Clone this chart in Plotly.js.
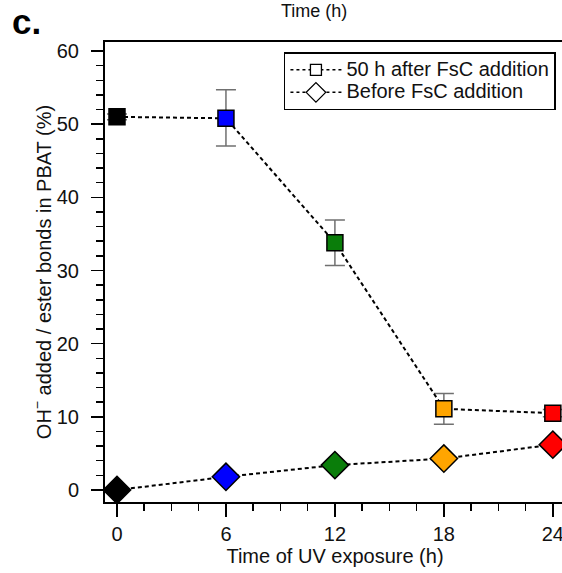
<!DOCTYPE html>
<html>
<head>
<meta charset="utf-8">
<script src="https://cdn.plot.ly/plotly-3.0.1.min.js"></script>
<style>
html, body { margin:0; padding:0; overflow:hidden; background:#fff; }
#chart { width:568px; height:573px; }
</style>
</head>
<body>
<div id="chart"></div>
<script>
// Data
const timeH = [0, 6, 12, 18, 24];
const pointColors = ['#000000', '#0000ff', '#0a7d0a', '#ffa500', '#ff0000'];
const afterFsC = [51.0, 50.8, 33.8, 11.1, 10.5];
const afterErrPlus = [0.4, 3.9, 3.1, 2.1, 0.5];
const afterErrMinus = [0.4, 3.8, 3.1, 2.1, 0.5];
const beforeFsC = [0.0, 1.8, 3.4, 4.3, 6.2];
const beforeErr = [0.2, 0.4, 0.3, 0.3, 0.4];
const seriesNames = ['50 h after FsC addition', 'Before FsC addition'];
const xTicks = [0, 6, 12, 18, 24];
const yTicks = [0, 10, 20, 30, 40, 50, 60];

const fontFam = '"Liberation Sans", Arial, Helvetica, sans-serif';
const lineStyle = {color: '#000', width: 2, dash: '4px,3px'};
const big = s => '<span style="font-size:20px">' + s + '</span>';

const traces = [
  {
    x: timeH, y: afterFsC, mode: 'lines+markers', showlegend: false,
    line: lineStyle,
    marker: {symbol: 'square', size: 16, color: pointColors, line: {color: '#000', width: 1.5}},
    error_y: {type: 'data', array: afterErrPlus, arrayminus: afterErrMinus, symmetric: false,
              color: '#707070', thickness: 1.5, width: 10}
  },
  {
    x: timeH, y: beforeFsC, mode: 'lines+markers', showlegend: false,
    line: lineStyle,
    marker: {symbol: 'diamond', size: 21, color: pointColors, line: {color: '#000', width: 1.5}},
    error_y: {type: 'data', array: beforeErr, color: '#444', thickness: 1.2, width: 5}
  },
  {
    x: [null], y: [null], mode: 'lines+markers', name: big(seriesNames[0]),
    line: {color: '#000', width: 1.5, dash: '3px,3px'},
    marker: {symbol: 'square', size: 11, color: '#fff', line: {color: '#000', width: 1.3}}
  },
  {
    x: [null], y: [null], mode: 'lines+markers', name: big(seriesNames[1]),
    line: {color: '#000', width: 1.5, dash: '3px,3px'},
    marker: {symbol: 'diamond', size: 15, color: '#fff', line: {color: '#000', width: 1.3}}
  }
];

const layout = {
  width: 568, height: 573,
  margin: {l: 105, r: 3, t: 42, b: 71},
  paper_bgcolor: '#fff', plot_bgcolor: '#fff',
  font: {family: fontFam, size: 20, color: '#111'},
  showlegend: true,
  legend: {
    x: 0.389, y: 0.978, xanchor: 'left', yanchor: 'top',
    bordercolor: '#000', borderwidth: 1.5, bgcolor: '#fff',
    font: {family: fontFam, size: 15, color: '#111'},
    itemwidth: 51, tracegroupgap: 0
  },
  xaxis: {
    range: [-0.66, 24.67], tickvals: xTicks, ticktext: xTicks.map(String),
    ticks: 'outside', ticklen: 13, tickwidth: 1.5, tickcolor: '#000',
    minor: {dtick: 1.5, tick0: 0, ticks: 'outside', ticklen: 7, tickwidth: 1.5, tickcolor: '#000'},
    showline: true, linecolor: '#000', linewidth: 2, mirror: true,
    showgrid: false, zeroline: false, ticklabelstandoff: 0,
    title: {text: 'Time of UV exposure (h)', font: {size: 20}, standoff: 4}
  },
  yaxis: {
    range: [-1.64, 61.23], tickvals: yTicks, ticktext: yTicks.map(String),
    ticks: 'outside', ticklen: 12, tickwidth: 1.5, tickcolor: '#000',
    minor: {dtick: 2, tick0: 0, ticks: 'outside', ticklen: 7, tickwidth: 1.5, tickcolor: '#000'},
    showline: true, linecolor: '#000', linewidth: 2, mirror: true,
    showgrid: false, zeroline: false, ticklabelstandoff: 8,
    title: {text: 'OH<sup>\u2212</sup> added / ester bonds in PBAT (%)', font: {size: 20}, standoff: 0}
  },
  shapes: [
    {type: 'rect', xref: 'paper', yref: 'paper', layer: 'above',
     x0: (289 - 105) / 460, x1: (555 - 105) / 460, y0: (502 - 107) / 460, y1: (502 - 56) / 460,
     fillcolor: '#000', line: {width: 0}}
  ],
  annotations: [
    {text: '<b>c.</b>', xref: 'paper', yref: 'paper', x: -0.206, y: 1.045,
     xanchor: 'left', yanchor: 'middle', showarrow: false, font: {size: 35, color: '#000'}},
    {text: 'Time (h)', xref: 'paper', yref: 'paper', x: 0.454, y: 1.068,
     xanchor: 'center', yanchor: 'middle', showarrow: false, font: {size: 18, color: '#111'}}
  ]
};

Plotly.newPlot('chart', traces, layout, {displayModeBar: false, staticPlot: true});
</script>
</body>
</html>
